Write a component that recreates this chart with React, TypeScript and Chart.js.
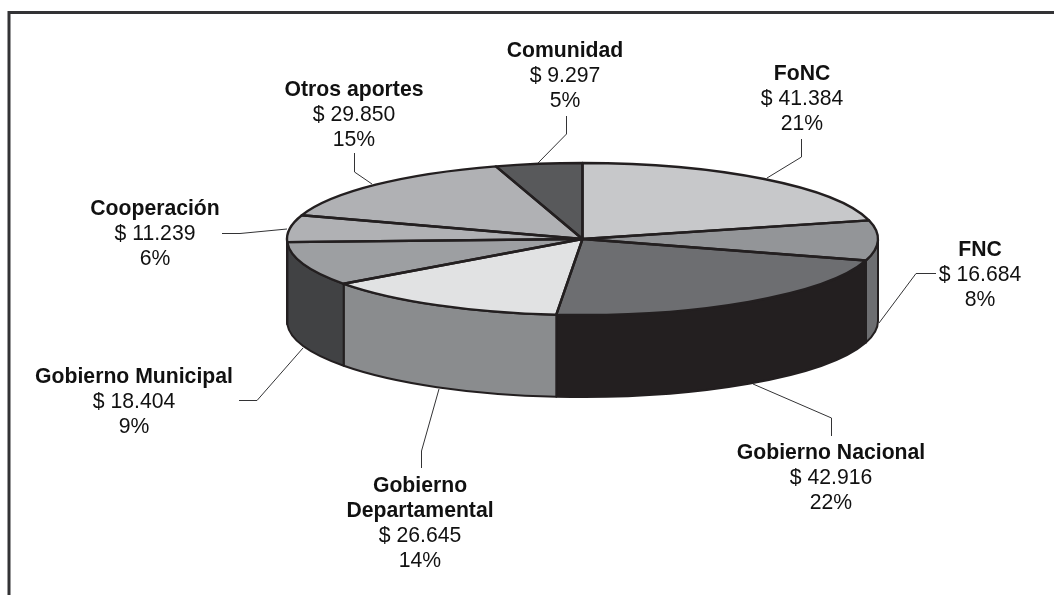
import React, { useEffect, useRef } from "react";
import { Chart, registerables } from "chart.js";

Chart.register(...registerables);

const categories = [
  "FoNC",
  "FNC",
  "Gobierno Nacional",
  "Gobierno Departamental",
  "Gobierno Municipal",
  "Cooperación",
  "Otros aportes",
  "Comunidad",
];
const amounts = [41384, 16684, 42916, 26645, 18404, 11239, 29850, 9297];
const percents = [21, 8, 22, 14, 9, 6, 15, 5];

const topColors = ["#c7c8ca", "#939598", "#6d6e71", "#e1e2e3", "#9d9fa2", "#b0b1b4", "#b0b1b4", "#58595b"];
const wallColors = ["#c7c8ca", "#6d6e71", "#231f20", "#8a8c8e", "#414244", "#6d6e71", "#6d6e71", "#58595b"];

// Text anchors: [centre x, first line y], and wrapped title per slice
const titleLines = [["FoNC"], ["FNC"], ["Gobierno Nacional"], ["Gobierno", "Departamental"], ["Gobierno Municipal"], ["Cooperación"], ["Otros aportes"], ["Comunidad"]];
const labelAnchors = [
  [802, 74],
  [980, 250],
  [831, 453],
  [420, 486],
  [134, 377],
  [155, 209],
  [354, 90],
  [565, 51],
];
const leaders = [
  [[801.5, 139], [801.5, 157], [767, 178]],
  [[936, 273.5], [916, 273.5], [879, 323]],
  [[831.5, 436], [831.5, 418], [753, 384]],
  [[421.5, 468], [421.5, 451], [439, 389]],
  [[239, 400.5], [257, 400.5], [303, 348]],
  [[222, 233.5], [240, 233.5], [287, 229]],
  [[354.5, 153], [354.5, 172], [372, 184]],
  [[566.5, 116], [566.5, 134], [538, 163]],
];

const CENTER_Y = 239;
const RADIUS_Y = 76;
const DEPTH = 82;
const INK = "#231f20";

const money = (v: number) => "$ " + String(v).replace(/\B(?=(\d{3})+$)/g, ".");

const pie3d = {
  id: "pie3d",
  beforeDraw(chart: any) {
    const { ctx } = chart;
    ctx.save();
    ctx.strokeStyle = "#333335";
    ctx.lineWidth = 3;
    ctx.lineCap = "butt";
    ctx.lineJoin = "miter";
    ctx.beginPath();
    ctx.moveTo(9, 595);
    ctx.lineTo(9, 12.5);
    ctx.lineTo(1054, 12.5);
    ctx.stroke();
    ctx.restore();
  },
  beforeDatasetsDraw(chart: any) {
    const { ctx } = chart;
    const arcs = chart.getDatasetMeta(0).data;
    ctx.save();
    ctx.lineJoin = "round";
    ctx.strokeStyle = INK;
    ctx.lineWidth = 2;
    arcs.forEach((arc: any, i: number) => {
      const s = Math.max(arc.startAngle, 0);
      const e = Math.min(arc.endAngle, Math.PI);
      if (s >= e) return;
      ctx.beginPath();
      ctx.ellipse(arc.x, CENTER_Y, arc.outerRadius, RADIUS_Y, 0, s, e);
      ctx.ellipse(arc.x, CENTER_Y + DEPTH, arc.outerRadius, RADIUS_Y, 0, e, s, true);
      ctx.closePath();
      ctx.fillStyle = wallColors[i];
      ctx.fill();
      ctx.stroke();
    });
    ctx.restore();
    // squash the library's own arcs into the top face of the disc
    const first = arcs[0];
    const k = RADIUS_Y / first.outerRadius;
    ctx.save();
    ctx.translate(0, CENTER_Y);
    ctx.scale(1, k);
    ctx.translate(0, -first.y);
  },
  afterDatasetsDraw(chart: any) {
    const { ctx } = chart;
    ctx.restore();
    const arcs = chart.getDatasetMeta(0).data;
    ctx.save();
    ctx.lineJoin = "round";
    ctx.strokeStyle = INK;
    ctx.lineWidth = 2.4;
    arcs.forEach((arc: any) => {
      ctx.beginPath();
      ctx.moveTo(arc.x, CENTER_Y);
      ctx.ellipse(arc.x, CENTER_Y, arc.outerRadius, RADIUS_Y, 0, arc.startAngle, arc.endAngle);
      ctx.closePath();
      ctx.stroke();
    });
    ctx.restore();
  },
  afterDraw(chart: any) {
    const { ctx } = chart;
    ctx.save();
    ctx.strokeStyle = "#333335";
    ctx.lineWidth = 1;
    leaders.forEach((pts) => {
      ctx.beginPath();
      pts.forEach(([x, y], j) => (j ? ctx.lineTo(x, y) : ctx.moveTo(x, y)));
      ctx.stroke();
    });
    ctx.fillStyle = "#111";
    ctx.textAlign = "center";
    ctx.textBaseline = "middle";
    categories.forEach((_, i) => {
      const [x, y0] = labelAnchors[i];
      let y = y0;
      ctx.font = 'bold 21.2px "Liberation Sans"';
      titleLines[i].forEach((t) => {
        ctx.fillText(t, x, y);
        y += 25.2;
      });
      ctx.font = '21.2px "Liberation Sans"';
      ctx.fillText(money(amounts[i]), x, y);
      y += 25.2;
      ctx.fillText(percents[i] + "%", x, y);
    });
    ctx.restore();
  },
};

export default function App() {
  const ref = useRef<HTMLCanvasElement>(null);
  useEffect(() => {
    document.body.style.margin = "0";
    document.body.style.background = "#fff";
    const chart = new Chart(ref.current as HTMLCanvasElement, {
      type: "pie",
      data: {
        labels: categories,
        datasets: [{ data: amounts, backgroundColor: topColors, borderWidth: 0 }],
      },
      options: {
        animation: false,
        responsive: false,
        layout: { padding: { left: 111, right: 0, top: 2, bottom: 2 } },
        plugins: { legend: { display: false }, tooltip: { enabled: false } },
      },
      plugins: [pie3d],
    } as any);
    return () => chart.destroy();
  }, []);
  return <canvas ref={ref} width={1054} height={595} style={{ display: "block", width: 1054, height: 595 }} />;
}
